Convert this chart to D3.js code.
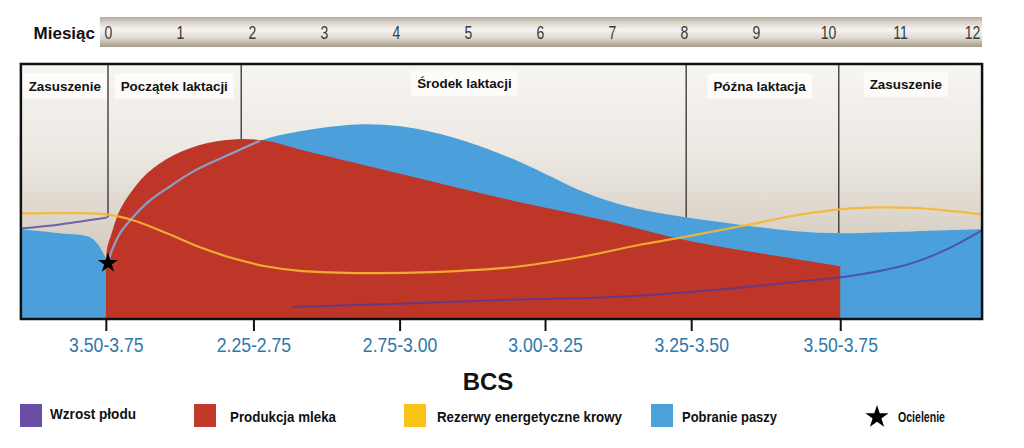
<!DOCTYPE html>
<html>
<head>
<meta charset="utf-8">
<script src="https://cdn.jsdelivr.net/npm/d3@7"></script>
<style>
  html, body { margin: 0; padding: 0; background: #ffffff; }
  svg { display: block; }
  text { font-family: "Liberation Sans", Arial, sans-serif; }
</style>
</head>
<body>
<svg id="chart" width="1024" height="448"></svg>
<script>
// ---------------- DATA ----------------
const monthTicks = [0,1,2,3,4,5,6,7,8,9,10,11,12];
const monthTitle = "Miesiąc";

const phaseNames   = ["Zasuszenie", "Początek laktacji", "Środek laktacji", "Późna laktacja", "Zasuszenie"];
const phaseCenters = [-0.6, 0.92, 4.95, 9.05, 11.08];   // month at label centre
const phaseDividers = [0, 1.85, 8.03, 10.15];           // month of divider lines
const dividerTops   = [39.8, 70.6, 39.8, 33.6];         // value where each divider ends (hidden below)

const bcsLabels = ["3.50-3.75", "2.25-2.75", "2.75-3.00", "3.00-3.25", "3.25-3.50", "3.50-3.75"];
const bcsMonths = [-0.03, 2.02, 4.05, 6.07, 8.1, 10.17];
const axisTitle = "BCS";

// Pobranie paszy (feed intake) – [month, relative level]
const feedIntake = [
  [-1.21,35.2],[-0.667,33.6],[-0.222,31.6],[-0.014,23.0],[0,21.9],
  [0.056,27.0],[0.167,33.6],[0.333,39.5],[0.583,46.5],[0.819,51.2],[1.18,57.8],
  [1.653,64.1],[2.11,69.9],[2.667,73.6],[3.458,76.3],[4.056,75.6],[4.514,73.2],
  [4.986,69.5],[5.611,62.9],[6.069,57.0],[6.542,50.6],[7.0,45.9],[7.458,42.6],
  [8.042,39.8],[8.847,36.7],[9.542,34.4],[10.167,33.6],[10.708,33.9],[11.625,34.8],[12.14,35.2]
];

// Produkcja mleka (milk production)
const milkProduction = [
  [-0.028,16],[-0.018,27],[0.051,33.6],[0.143,41.4],[0.306,49.2],[0.537,57.0],
  [0.903,64.1],[1.37,68.9],[1.85,70.6],[2.25,69.6],[2.667,66.5],[4.056,57.0],
  [5.611,46.5],[6.833,39.1],[8.028,30.9],[9.056,25.8],[10.17,20.7]
];

// Rezerwy energetyczne krowy (body energy reserves)
const energyReserves = [
  [-1.21,41.4],[-0.667,41.5],[-0.014,41.0],[0.347,38.7],[0.819,33.6],[1.278,28.1],
  [1.736,23.8],[2.208,20.6],[2.667,18.9],[3.597,18.0],[4.514,18.4],[5.611,20.3],
  [6.542,24.2],[7.458,29.5],[8.028,32.3],[8.847,36.7],[9.542,40.6],[10.167,43.0],
  [10.708,43.75],[11.167,43.6],[11.625,42.6],[12.14,41.0]
];

// Wzrost płodu (fetal growth) – two visible segments
const fetalGrowthDry = [[-1.21,35.5],[-0.667,37.1],[-0.014,39.8]];
const fetalGrowthLate = [
  [2.57,4.7],[4.056,6.0],[5.611,7.6],[7.0,8.6],[8.389,11.3],[9.778,15.2],
  [10.236,16.6],[10.72,18.8],[11.167,21.9],[11.625,27.0],[12.14,34.8]
];

const calving = [[0, 21.9]];

const legendNames = ["Wzrost płodu", "Produkcja mleka", "Rezerwy energetyczne krowy", "Pobranie paszy", "Ocielenie"];

// ---------------- LAYOUT / STYLE ----------------
const chartStart = -1.21, chartEnd = 12.14;
const colors = {
  fetal: "#4b3a9e", milk: "#be3627", energy: "#f6b630", feed: "#4ba0db",
  feedLine: "#8e9dc8", legendFetal: "#6a4ea3", legendMilk: "#c0392b",
  legendEnergy: "#f8c218", legendFeed: "#4ca1db"
};
const legendX = [20, 194, 404, 651, 877];
const legendTextX = [30, 36, 33, 31, 21];
const legendTextW = [86, 106, 185, 95, 47];

const svg = d3.select("#chart");
const x = d3.scaleLinear().domain([0, 12]).range([108, 972]);
const y = d3.scaleLinear().domain([0, 100]).range([319, 64]);

const defs = svg.append("defs");
const bg = defs.append("linearGradient").attr("id","bg").attr("x1",0).attr("y1",0).attr("x2",0).attr("y2",1);
bg.append("stop").attr("offset","0%").attr("stop-color","#f7f5f2");
bg.append("stop").attr("offset","35%").attr("stop-color","#ece8e2");
bg.append("stop").attr("offset","70%").attr("stop-color","#d6cec2");
bg.append("stop").attr("offset","100%").attr("stop-color","#cbc2b4");

const bar = defs.append("linearGradient").attr("id","bar").attr("x1",0).attr("y1",0).attr("x2",0).attr("y2",1);
bar.append("stop").attr("offset","0%").attr("stop-color","#b4aa9b");
bar.append("stop").attr("offset","18%").attr("stop-color","#d9d3ca");
bar.append("stop").attr("offset","42%").attr("stop-color","#f6f4f0");
bar.append("stop").attr("offset","68%").attr("stop-color","#e2ddd5");
bar.append("stop").attr("offset","100%").attr("stop-color","#a69a87");

const clip = defs.append("clipPath").attr("id","plotclip");
clip.append("rect")
  .attr("x", x(chartStart)).attr("y", y(100))
  .attr("width", x(chartEnd) - x(chartStart)).attr("height", y(0) - y(100));

// ---- Month bar ----
svg.append("rect")
  .attr("x", x(chartStart) + 79).attr("y", 17)
  .attr("width", x(chartEnd) - x(chartStart) - 79).attr("height", 30)
  .attr("fill", "url(#bar)");

svg.append("text")
  .attr("x", 95).attr("y", 39)
  .attr("text-anchor","end")
  .attr("font-size", 17).attr("font-weight","bold").attr("fill","#111")
  .text(monthTitle);

const monthAxis = svg.append("g")
  .attr("transform", "translate(0,33)")
  .call(d3.axisBottom(x).tickValues(monthTicks).tickSize(0).tickPadding(0));
monthAxis.select(".domain").remove();
monthAxis.selectAll("text")
  .attr("y", 0).attr("dy", "0.36em")
  .attr("font-family", "'Liberation Sans', Arial, sans-serif")
  .attr("font-size", 18).attr("fill", "#3a3a3a")
  .attr("transform", "scale(0.78,1)");

// ---- Plot background ----
svg.append("rect")
  .attr("x", x(chartStart)).attr("y", y(100))
  .attr("width", x(chartEnd) - x(chartStart)).attr("height", y(0) - y(100))
  .attr("fill", "url(#bg)");

const plot = svg.append("g").attr("clip-path", "url(#plotclip)");

// phase dividers (behind areas)
plot.selectAll("line.div").data(phaseDividers).join("line")
  .attr("class","div")
  .attr("x1", d => x(d)).attr("x2", d => x(d))
  .attr("y1", y(100)).attr("y2", (d,i) => y(dividerTops[i]))
  .attr("stroke", "#222").attr("stroke-width", 1.2);

// phase label backgrounds + labels
const phaseG = plot.selectAll("g.phase").data(phaseNames).join("g").attr("class","phase");
phaseG.append("text")
  .attr("x", (d,i) => x(phaseCenters[i]))
  .attr("y", (d,i) => i === 2 ? 83 : (i === 4 ? 84 : 86))
  .attr("dy","0.35em")
  .attr("text-anchor","middle")
  .attr("font-size", 13.4).attr("font-weight","bold").attr("fill","#111")
  .text(d => d);
phaseG.each(function() {
  const g = d3.select(this);
  const bb = g.select("text").node().getBBox();
  g.insert("rect","text")
    .attr("x", bb.x - 6).attr("y", bb.y - 5)
    .attr("width", bb.width + 12).attr("height", bb.height + 10)
    .attr("fill", "#ffffff").attr("opacity", 0.7);
});

// areas
const curve = d3.curveCatmullRom.alpha(0.5);
const area = d3.area()
  .x(d => x(d[0])).y0(y(0)).y1(d => y(d[1]))
  .curve(curve);
const line = d3.line()
  .x(d => x(d[0])).y(d => y(d[1]))
  .curve(curve);

plot.append("path").datum(feedIntake).attr("d", area).attr("fill", colors.feed);
plot.append("path").datum(milkProduction).attr("d", area).attr("fill", colors.milk);

// feed intake edge visible over milk
plot.append("path")
  .datum(feedIntake.filter(d => d[0] >= 0 && d[0] <= 2.12))
  .attr("d", line).attr("fill","none")
  .attr("stroke", colors.feedLine).attr("stroke-width", 2.2);

// energy reserves
plot.append("path").datum(energyReserves).attr("d", line)
  .attr("fill","none").attr("stroke", colors.energy)
  .attr("stroke-width", 2.2).attr("stroke-opacity", 0.9);

// fetal growth
[fetalGrowthDry, fetalGrowthLate].forEach(seg => {
  plot.append("path").datum(seg).attr("d", line)
    .attr("fill","none").attr("stroke", colors.fetal)
    .attr("stroke-width", 2).attr("stroke-opacity", 0.75);
});

// calving star
plot.selectAll("path.star").data(calving).join("path")
  .attr("class","star")
  .attr("transform", d => `translate(${x(d[0])},${y(d[1])})`)
  .attr("d", d3.symbol(d3.symbolStar).size(125))
  .attr("fill", "#000");

// frame
svg.append("rect")
  .attr("x", x(chartStart)).attr("y", y(100))
  .attr("width", x(chartEnd) - x(chartStart)).attr("height", y(0) - y(100))
  .attr("fill","none").attr("stroke","#111").attr("stroke-width", 2.5);

// ---- BCS axis ----
const bcsAxis = svg.append("g")
  .attr("transform", `translate(0,${y(0)})`)
  .call(d3.axisBottom(x).tickValues(bcsMonths).tickFormat((d,i) => bcsLabels[i]).tickSize(12).tickPadding(6));
bcsAxis.select(".domain").remove();
bcsAxis.selectAll(".tick line").attr("stroke","#111").attr("stroke-width", 2);
bcsAxis.selectAll("text")
  .attr("font-family", "'Liberation Sans', Arial, sans-serif")
  .attr("font-size", 21).attr("fill", "#2f78aa")
  .attr("transform", "scale(0.84,1)");

svg.append("text")
  .attr("x", 488).attr("y", 390)
  .attr("text-anchor","middle")
  .attr("font-size", 24).attr("font-weight","bold").attr("fill","#111")
  .text(axisTitle);

// ---- Legend ----
const legendColors = [colors.legendFetal, colors.legendMilk, colors.legendEnergy, colors.legendFeed, null];
const lg = svg.selectAll("g.legend").data(legendNames).join("g")
  .attr("class","legend")
  .attr("transform", (d,i) => `translate(${legendX[i]},404)`);
lg.each(function(d,i) {
  const g = d3.select(this);
  if (legendColors[i]) {
    g.append("rect").attr("width", 22).attr("height", 23).attr("fill", legendColors[i]);
  } else {
    g.append("path").attr("transform","translate(0,13)")
      .attr("d", d3.symbol(d3.symbolStar).size(165)).attr("fill","#000");
  }
  g.append("text")
    .attr("x", legendTextX[i])
    .attr("y", i === 0 ? 10 : 13).attr("dy","0.35em")
    .attr("font-size", 15).attr("font-weight","bold").attr("fill","#111")
    .attr("textLength", legendTextW[i]).attr("lengthAdjust","spacingAndGlyphs")
    .text(d);
});
</script>
</body>
</html>
